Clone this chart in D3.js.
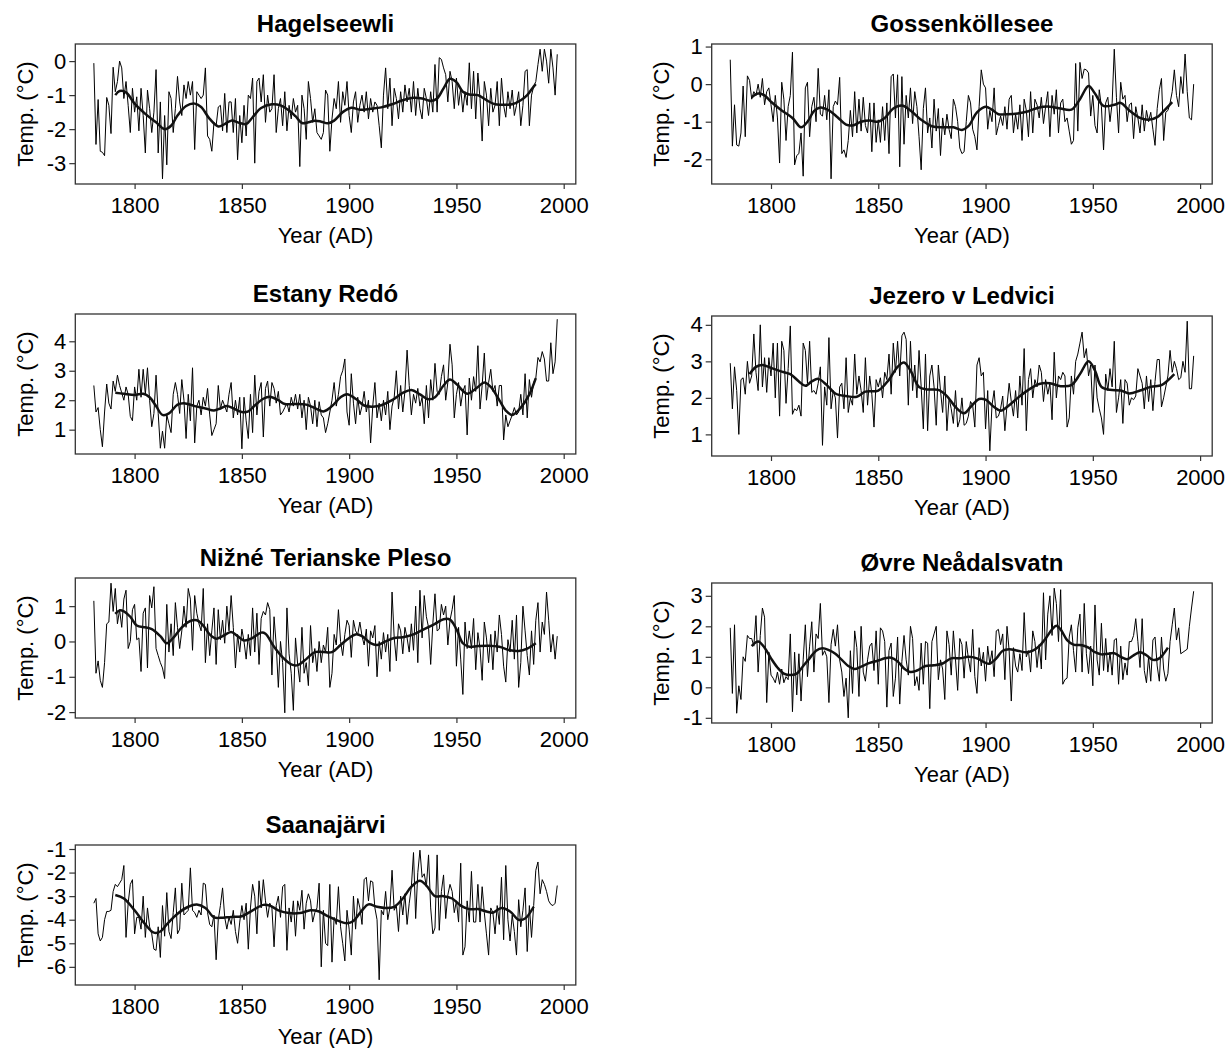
<!DOCTYPE html>
<html>
  <head>
    <meta charset="UTF-8">
    <title>Lake temperature reconstructions</title>
  </head>
  <style type="text/css">
    body { margin: 0; background: #fff; }
    text { font-family: "Liberation Sans", Arial, Helvetica, sans-serif; fill: #000; }
    .tick text { font-size: 22px; }
    .tick line { stroke: #333; stroke-width: 1.2; }
    .title { font-size: 24px; font-weight: bold; }
    .label { font-size: 22px; }
  </style>
  <body>
    <svg width="1231" height="1048"></svg>
  </body>
  <script src="https://d3js.org/d3.v7.min.js"></script>
  <script type="text/javascript">
    // annual series all start in 1781
    const startYear = 1781;
    const xTicks = [1800, 1850, 1900, 1950, 2000];

    const lakeNames = ['Hagelseewli', 'Gossenköllesee', 'Estany Redó', 'Jezero v Ledvici',
                       'Nižné Terianske Pleso', 'Øvre Neådalsvatn', 'Saanajärvi'];

    const hagelseewliTemp = [
      -0.06, -2.45, -1.13, -2.65, -2.68, -2.78, -1.07, -1.3, -2.13, -0.18,
      -0.9, -0.6, 0.0, -0.2, -1.1, -0.6, -1.3, -2.1, -0.8, -1.5,
      -1.05, -2.05, -0.8, -1.6, -2.7, -0.85, -1.4, -2.1, -1.5, -0.25,
      -2.7, -1.2, -3.46, -1.6, -3.05, -0.9, -1.1, -2.1, -1.4, -0.45,
      -1.2, -1.6, -0.7, -1.1, -0.6, -1.0, -0.6, -2.6, -0.9, -1.0,
      -1.1, -1.0, -0.2, -2.2, -2.3, -2.65, -1.8, -1.9, -1.35, -1.3,
      -2.05, -0.95, -2.1, -1.2, -1.2, -2.1, -1.1, -2.9, -1.6, -2.4,
      -1.3, -2.2, -1.0, -1.1, -0.5, -3.0, -0.6, -0.5, -1.2, -0.4,
      -1.8, -1.0, -1.5, -1.4, -0.4, -2.1, -1.4, -1.1, -1.9, -0.9,
      -2.05, -1.3, -1.7, -1.1, -1.5, -1.3, -3.1, -1.0, -1.4, -2.3,
      -0.6, -1.1, -1.8, -1.4, -2.1, -2.2, -2.3, -2.1, -0.85, -1.0,
      -2.65, -1.7, -1.1, -1.4, -0.6, -1.8, -0.9, -1.3, -0.6, -1.6,
      -2.1, -1.2, -0.9, -1.8, -1.3, -1.0, -1.5, -0.9, -1.7, -1.1,
      -1.5, -1.2, -1.3, -1.9, -2.55, -1.0, -0.2, -1.4, -0.5, -1.9,
      -0.8, -1.1, -1.7, -0.9, -1.5, -0.7, -1.2, -0.8, -1.5, -0.6,
      -1.6, -0.8, -1.4, -1.7, -0.8, -1.1, -1.6, -0.9, -1.5, -0.1,
      -1.5, 0.1, 0.05, -0.2, -0.4, -1.2, -0.3, -0.6, -1.4, -0.5,
      -1.3, -0.8, -1.5, -0.9, -1.3, -0.05, -1.4, -0.3, -1.7, -0.35,
      -1.1, -2.35, -0.6, -1.0, -1.9, -0.8, -1.5, -1.3, -0.6, -1.9,
      -0.5, -1.3, -1.65, -0.9, -1.4, -0.85, -1.6, -1.3, -0.9, -1.9,
      -1.3, -0.3, -0.25, -1.9, -1.0, -0.75, -0.6, -0.1, 0.35, -0.3,
      0.35, 0.0, -0.65, 0.35, -0.2, -1.0, 0.2
    ];
    const hagelseewliSmooth = [
      [1791, -1.0], [1793, -0.88], [1796, -0.92], [1800, -1.25], [1805, -1.55], [1810, -1.8],
      [1814, -2.0], [1817, -1.9], [1820, -1.6], [1824, -1.32], [1828, -1.25], [1831, -1.35],
      [1835, -1.7], [1839, -1.92], [1842, -1.85], [1845, -1.75], [1849, -1.82], [1852, -1.85],
      [1855, -1.65], [1859, -1.38], [1864, -1.27], [1868, -1.3], [1872, -1.45], [1875, -1.62],
      [1878, -1.82], [1881, -1.8], [1884, -1.75], [1887, -1.78], [1890, -1.83], [1893, -1.75],
      [1897, -1.5], [1901, -1.37], [1905, -1.43], [1910, -1.4], [1915, -1.36], [1920, -1.27],
      [1925, -1.15], [1930, -1.08], [1934, -1.1], [1938, -1.17], [1941, -1.1], [1944, -0.8],
      [1947, -0.52], [1950, -0.62], [1953, -0.9], [1956, -0.98], [1960, -1.0], [1964, -1.15],
      [1968, -1.27], [1972, -1.28], [1976, -1.27], [1980, -1.15], [1983, -1.0], [1986, -0.75],
      [1987, -0.68]
    ];

    const gossenTemp = [
      0.65, -1.65, -0.55, -1.62, -1.65, -1.3, -0.05, -1.4, 0.22, 0.1,
      -0.4, -0.2, -0.3, 0.0, -0.35, 0.15, -0.55, -0.2, -0.1, -0.55,
      -1.0, -0.3, -0.9, -2.1, 0.05, -0.4, -1.5, -0.6, -0.3, 0.85,
      -2.15, -1.9, -1.85, -1.3, -2.45, -0.1, 0.05, -1.4, -0.6, -0.35,
      -1.0, 0.42, -0.8, -0.85, -0.3, -0.95, -0.15, -2.52, -0.6, -0.45,
      -0.55, 0.18, -1.85, -1.75, -1.95, -1.5, -0.7, -1.4, -0.2, -1.3,
      -0.4, -1.25, -0.35, -1.1, -1.3, -0.5, -1.8, -0.5, -1.55, -0.95,
      -1.55, -0.6, -1.5, -0.5, -1.85, 0.2, 0.27, -0.9, 0.25, -2.2,
      0.2, -1.6, -0.3, -0.9, -0.1, -1.05, -0.2, -0.6, -1.4, -2.28,
      -0.65, -0.1, -1.3, -0.9, -1.7, -0.4, -1.25, -0.65, -1.9, -0.9,
      -1.35, -0.8, -1.2, -1.45, -0.4, -0.6, -1.0, -1.7, -1.85, -1.8,
      -1.0, -0.3, -0.5, -1.2, -1.4, -1.75, -0.6, 0.38, 0.0, -0.1,
      -1.2, -0.7, -1.0, -0.1, -1.35, -1.1, -0.85, -1.1, -0.6, -1.2,
      -0.4, -0.3, -1.3, -0.8, -1.2, -0.55, -1.5, -0.4, -0.7, -1.4,
      -0.2, -1.3, -0.4, -0.55, -0.9, -0.35, -1.05, -0.6, -0.2, -1.4,
      -0.3, -0.8, -0.15, -1.3, -0.5, -0.4, -1.0, -0.9, -1.25, -1.6,
      -1.5, 0.55, -1.25, 0.58, 0.15, 0.4, 0.38, 0.3, -0.85, -0.3,
      -1.1, -1.3, -0.15, -0.6, -1.75, -0.5, -0.35, -1.0, -0.5, 0.93,
      -0.35, -1.3, 0.05, -0.4, -0.3, -1.0, -0.55, -0.5, -1.45, -0.6,
      -0.9, -1.3, -0.55, -1.25, -0.7, -1.0, -0.75, -1.2, -1.63, -0.65,
      -0.15, 0.15, -1.5, -0.75, -0.7, -0.5, -0.2, 0.38, -0.3, -0.6,
      0.2, -0.25, 0.8, -0.2, -0.9, -0.95, 0.0
    ];
    const gossenSmooth = [
      [1791, -0.35], [1794, -0.25], [1797, -0.3], [1800, -0.47], [1805, -0.7], [1810, -0.9],
      [1814, -1.15], [1817, -1.0], [1820, -0.72], [1823, -0.62], [1827, -0.7], [1831, -0.88],
      [1835, -1.08], [1838, -1.1], [1842, -1.0], [1846, -0.97], [1850, -1.0], [1853, -0.9],
      [1857, -0.65], [1861, -0.57], [1865, -0.7], [1870, -0.95], [1875, -1.12], [1880, -1.15],
      [1885, -1.15], [1889, -1.22], [1892, -1.12], [1896, -0.75], [1900, -0.6], [1903, -0.68],
      [1906, -0.8], [1910, -0.8], [1915, -0.78], [1920, -0.72], [1925, -0.62], [1930, -0.6],
      [1935, -0.65], [1940, -0.68], [1944, -0.4], [1948, -0.05], [1951, -0.25], [1955, -0.58],
      [1960, -0.55], [1963, -0.5], [1967, -0.7], [1972, -0.9], [1976, -0.95], [1980, -0.88],
      [1983, -0.72], [1987, -0.48]
    ];

    const redoTemp = [
      2.5, 1.6, 1.75, 1.0, 0.42, 1.6, 2.55, 1.9, 1.7, 2.65,
      2.3, 2.85, 2.5, 2.25, 2.0, 2.45, 2.2, 1.45, 1.3, 2.45,
      2.0, 3.05, 2.1, 3.05, 2.2, 3.1, 2.0, 1.1, 1.55, 2.85,
      1.55, 0.37, 0.95, 0.37, 1.5, 1.2, 0.9, 2.2, 2.6, 2.2,
      1.55, 2.7, 2.0, 0.7, 2.2, 1.3, 3.1, 0.55, 1.8, 2.0,
      1.5, 2.1, 1.8, 2.4, 1.5, 0.8, 1.0, 1.2, 2.5, 1.7,
      2.0, 1.8, 1.6, 2.2, 2.6, 1.4, 2.0, 1.5, 2.1, 0.35,
      2.1, 1.3, 0.7, 2.2, 0.9, 2.85, 1.5, 2.3, 2.6, 0.75,
      2.4, 2.65, 1.8, 2.6, 2.4, 1.9, 2.3, 1.5, 1.6, 1.75,
      1.9, 1.6, 2.1, 1.8, 2.2, 1.7, 2.2, 1.4, 2.0, 1.0,
      2.1, 1.8, 1.2, 2.0, 1.1, 1.95, 1.5, 1.4, 0.9, 1.2,
      1.6, 2.0, 2.6, 1.8, 2.2, 2.8, 3.0, 3.4, 1.6, 1.15,
      2.9, 1.9, 1.2, 2.1, 1.5, 1.8, 2.3, 1.6, 2.0, 0.55,
      1.8, 2.6, 1.4, 1.9, 1.3, 2.0, 1.5, 2.3, 1.0, 1.8,
      2.1, 3.0, 1.7, 2.5, 1.6, 2.3, 3.7, 2.5, 1.5, 2.2,
      1.9, 2.4, 1.8, 2.1, 1.2, 2.5, 1.4, 2.7, 2.0, 3.25,
      2.3, 2.2, 2.8, 3.2, 2.0, 2.6, 3.9, 3.2, 1.4, 2.2,
      2.6, 1.8, 2.3, 2.5, 0.82, 2.75, 2.0, 2.8, 2.3, 3.85,
      1.7, 2.5, 3.6, 2.0, 2.6, 3.05, 2.3, 2.5, 1.8, 2.5,
      2.5, 0.65, 1.5, 1.1, 1.3, 1.5, 1.75, 1.5, 1.6, 2.2,
      1.5, 2.9, 1.4, 2.7, 2.1, 2.6, 2.75, 3.45, 3.3, 3.65,
      3.4, 2.65, 2.65, 3.95, 2.9, 3.3, 4.75
    ];
    const redoSmooth = [
      [1791, 2.25], [1795, 2.22], [1800, 2.18], [1804, 2.22], [1807, 2.1], [1810, 1.8],
      [1813, 1.5], [1816, 1.55], [1820, 1.85], [1823, 1.9], [1828, 1.8], [1833, 1.72],
      [1837, 1.65], [1840, 1.72], [1843, 1.8], [1846, 1.72], [1850, 1.6], [1853, 1.62],
      [1856, 1.82], [1860, 2.05], [1863, 2.12], [1867, 2.0], [1870, 1.87], [1875, 1.87],
      [1880, 1.85], [1885, 1.7], [1888, 1.62], [1892, 1.8], [1896, 2.1], [1899, 2.2],
      [1903, 2.05], [1907, 1.82], [1911, 1.78], [1915, 1.83], [1920, 2.0], [1925, 2.25],
      [1929, 2.35], [1933, 2.2], [1937, 2.03], [1940, 2.1], [1944, 2.5], [1947, 2.7],
      [1950, 2.55], [1955, 2.22], [1960, 2.45], [1963, 2.6], [1966, 2.45], [1970, 2.0],
      [1973, 1.65], [1976, 1.5], [1980, 1.75], [1984, 2.2], [1987, 2.75]
    ];

    const ledviciTemp = [
      2.95, 1.7, 2.85, 2.2, 1.0, 2.5, 2.55, 2.1, 3.0, 2.4,
      2.6, 3.75, 2.7, 2.2, 4.0, 2.3, 3.1, 2.15, 3.1, 2.6,
      3.5, 2.0, 3.5, 1.5, 3.55, 3.3, 1.85, 2.8, 3.97, 1.55,
      1.7, 1.65, 1.8, 1.5, 3.5, 3.3, 2.4, 3.55, 2.15, 2.2,
      2.1, 2.4, 2.85, 0.7, 2.3, 1.8, 3.65, 1.7, 2.2, 2.0,
      0.9, 2.3, 2.4, 1.7, 3.1, 1.6, 2.0, 1.8, 3.2, 2.1,
      2.6, 2.2, 1.6, 3.1, 1.8, 2.6, 2.1, 1.2, 2.5, 2.3,
      2.55, 2.0, 2.7, 2.5, 3.2, 2.1, 3.5, 2.7, 3.55, 2.6,
      3.7, 3.8, 3.6, 1.8, 3.55, 2.2, 2.9, 2.0, 3.3, 2.3,
      1.15, 3.2, 1.1, 2.6, 2.9, 2.3, 1.25, 2.9, 2.2, 1.6,
      2.6, 1.1, 2.0, 1.7, 1.3, 2.2, 1.2, 1.4, 2.0, 1.25,
      1.3, 1.5, 1.9, 1.8, 1.2, 2.9, 3.1, 2.6, 2.7, 1.15,
      2.2, 0.55, 1.8, 2.2, 1.45, 1.5, 1.7, 2.05, 1.1, 1.8,
      2.4, 1.9, 1.5, 2.2, 1.45, 2.6, 1.8, 3.35, 1.1, 2.5,
      2.8, 2.0, 2.5, 2.3, 2.9, 2.7, 1.9, 2.5, 2.1, 2.4,
      1.4, 3.25, 2.0, 2.6, 2.5, 2.7, 2.6, 1.2, 1.45, 2.6,
      2.1, 3.0, 3.2, 3.5, 3.8, 3.1, 3.35, 2.6, 2.9, 1.6,
      2.9, 2.0, 1.7, 1.45, 1.0, 2.65, 2.2, 2.8, 2.3, 3.55,
      1.6, 2.0, 2.5, 1.3, 2.5, 2.4, 1.8, 2.0, 1.95, 2.05,
      2.8, 2.6, 2.4, 1.7, 2.6, 1.9, 2.5, 1.65, 2.45, 3.05,
      3.05, 1.75, 2.0, 2.3, 2.6, 3.3, 2.7, 3.0, 2.8, 2.5,
      2.55, 3.0, 2.7, 4.1, 2.25, 2.25, 3.15
    ];
    const ledviciSmooth = [
      [1790, 2.65], [1793, 2.85], [1796, 2.9], [1800, 2.82], [1805, 2.72], [1809, 2.65],
      [1813, 2.45], [1816, 2.33], [1819, 2.45], [1822, 2.52], [1826, 2.35], [1830, 2.12],
      [1835, 2.05], [1840, 2.03], [1844, 2.17], [1850, 2.2], [1855, 2.5], [1859, 2.85],
      [1862, 2.97], [1865, 2.75], [1869, 2.3], [1873, 2.23], [1878, 2.22], [1882, 2.05],
      [1886, 1.75], [1890, 1.58], [1893, 1.75], [1897, 1.97], [1900, 1.95], [1904, 1.75],
      [1907, 1.65], [1911, 1.8], [1915, 2.0], [1920, 2.22], [1925, 2.38], [1930, 2.4],
      [1935, 2.32], [1940, 2.35], [1944, 2.65], [1948, 3.0], [1951, 2.75], [1954, 2.3],
      [1958, 2.22], [1963, 2.2], [1967, 2.12], [1972, 2.2], [1977, 2.3], [1982, 2.35],
      [1985, 2.48], [1988, 2.65]
    ];

    const terianskeTemp = [
      1.15, -0.9, -0.55, -1.1, -1.3, -0.6, 0.5, 0.55, 1.65, 0.85,
      1.5, 0.5, 0.9, 0.4, 1.2, 1.45, -0.2, 0.0, 0.9, 1.05,
      0.05, 0.1, -0.85, 0.8, 0.95, -0.75, 1.3, 0.95, 1.55, -0.2,
      -0.4, -0.6, -0.75, -1.05, 1.05, -0.3, 0.5, -0.4, 1.1, 0.4,
      -0.2, 0.3, 1.0, 0.4, 1.5, 1.2, -0.25, 1.3, 0.8, 0.5,
      0.3, 1.5, -0.6, 0.5, -0.4, 0.3, 0.95, -0.65, 0.9, 0.05,
      0.6, -0.05, 1.0, 0.3, 1.3, 0.4, -0.75, 0.2, -0.3, 0.35,
      0.0, -0.5, 0.2, -0.4, 0.95, -0.3, 0.8, -0.65, 0.65, 0.85,
      0.75, 1.1, 0.9, -0.95, 0.7, -0.1, -1.3, 0.0, -0.6, -2.02,
      0.95, -0.35, -0.9, -1.95, 0.1, -0.65, -1.15, 0.4, -0.9, -0.6,
      -1.25, 0.45, -0.6, -0.2, -0.85, 0.0, -0.6, -0.1, -0.3, 0.4,
      -1.3, -0.9, 0.2, -0.1, 0.9, 0.0, -0.4, 0.2, 0.6, 0.45,
      -0.45, 0.6, 0.3, 0.2, 0.55, 0.15, -0.1, 0.35, -0.7, 0.3,
      0.1, 0.45, -1.0, 0.0, -0.5, 0.25, -0.3, 0.2, -0.85, 1.4,
      0.1, -0.55, 0.5, 0.3, -0.35, 0.4, 0.1, -0.3, 0.5, -0.25,
      1.0, -0.6, 1.45, 0.1, 1.3, 0.7, 0.4, -0.65, 0.5, 1.35,
      0.3, 0.35, 1.05, 0.75, 1.0, -0.1, 0.6, 0.9, 1.3, -0.7,
      0.4, -0.5, -1.5, 0.55, -0.2, 0.3, -0.2, 0.65, -0.8, 0.25,
      -0.2, -1.1, 0.55, 0.1, -0.6, 0.2, -0.8, 0.3, -0.3, 0.75,
      0.2, -0.7, -1.15, 0.05, -0.3, 0.6, -0.5, 0.75, -1.3, -0.6,
      1.0, 0.3, -0.4, -0.95, 0.3, -0.65, 0.6, 1.1, -0.3, 0.55,
      0.2, 1.4, 0.6, -0.3, 0.2, -0.5, 0.15
    ];
    const terianskeSmooth = [
      [1791, 0.78], [1793, 0.88], [1795, 0.85], [1798, 0.7], [1801, 0.45], [1805, 0.4],
      [1808, 0.35], [1812, 0.15], [1815, -0.05], [1818, 0.1], [1822, 0.4], [1826, 0.58],
      [1829, 0.6], [1832, 0.45], [1835, 0.2], [1838, 0.08], [1841, 0.15], [1845, 0.27],
      [1848, 0.15], [1851, 0.03], [1855, 0.1], [1859, 0.25], [1861, 0.22], [1865, -0.15],
      [1869, -0.45], [1873, -0.65], [1876, -0.67], [1880, -0.5], [1884, -0.3], [1888, -0.3],
      [1892, -0.3], [1896, -0.1], [1900, 0.1], [1903, 0.2], [1906, 0.15], [1910, -0.05],
      [1913, -0.1], [1917, 0.0], [1921, 0.1], [1925, 0.12], [1930, 0.2], [1935, 0.35],
      [1940, 0.5], [1944, 0.63], [1947, 0.62], [1950, 0.35], [1953, -0.05], [1956, -0.15],
      [1960, -0.13], [1965, -0.12], [1970, -0.15], [1975, -0.25], [1979, -0.27], [1983, -0.2],
      [1987, -0.05]
    ];

    const neadalsvatnTemp = [
      1.95, -0.2, 2.05, -0.85, 0.05, -0.4, 1.0, 0.85, 1.7, 1.6,
      1.6, 1.35, 2.35, 0.5, 1.7, 2.6, 2.3, -0.5, 1.15, 0.4,
      0.3, 0.15, 0.5, 0.1, 0.6, 0.15, 0.35, 0.25, 1.75, -0.8,
      1.15, -0.25, 1.1, -0.45, 0.9, 2.05, 0.35, 1.35, 2.15, 0.5,
      1.75, 1.6, 2.75, 1.05, 1.2, 1.0, -0.5, 1.4, 1.9, 1.35,
      2.05, 0.9, 0.5, -0.3, 0.3, -1.0, 1.2, -0.2, 1.85, 1.3,
      -0.3, 2.0, 0.5, 0.2, 0.9, 1.35, 1.45, 0.55, 1.85, 0.1,
      1.95, 1.85, 1.5, -0.65, 1.2, 1.45, -0.3, 0.3, 1.65, -0.55,
      0.85, 1.7, 0.9, 0.4, 2.0, 1.6, 0.05, 0.35, -0.1, 1.45,
      0.1, 1.5, 1.45, -0.7, 1.5, 1.75, 2.0, 0.25, 0.9, 0.6,
      -0.4, 1.85, 1.4, 0.4, 1.85, 0.9, -0.1, 1.6, 1.4, 0.3,
      1.5, 0.95, 0.5, 1.9, 0.35, -0.2, 1.3, 0.7, 1.15, 0.2,
      1.35, 0.75, 1.2, 0.35, 1.85, 1.9, 1.4, 1.75, 0.25, 2.0,
      1.2, -0.45, 1.3, 0.7, 0.5, 1.1, 0.55, 2.45, 1.0, 1.2,
      0.5, 1.85, 1.5, 0.65, 1.4, 0.6, 3.1, 0.9, 2.4, 3.0,
      1.7, 3.25, 2.75, 1.5, 3.2, 0.1, 0.25, 0.3, 1.65, 2.05,
      1.2, 0.5, 1.95, 2.4, 0.5, 2.75, 1.1, 0.45, 1.35, 0.05,
      2.7, 0.9, 0.4, 2.1, 0.55, 1.6, 0.5, 1.15, 0.4, 1.55,
      1.6, 0.1, 1.35, 0.25, 0.8, 0.4, 1.5, 1.5, 1.7, 2.25,
      1.5, 0.65, 2.25, 0.55, 0.15, 1.0, 0.2, 1.55, 1.65, 0.7,
      0.2, 1.65, 0.6, 0.2, 0.45, 1.5, 2.05, 2.6, 1.55, 1.95,
      1.1, 1.15, 1.2, 1.25, 2.0, 2.6, 3.15
    ];
    const neadalsvatnSmooth = [
      [1791, 1.35], [1794, 1.5], [1797, 1.3], [1800, 0.95], [1803, 0.65], [1806, 0.45],
      [1809, 0.4], [1812, 0.45], [1815, 0.7], [1818, 0.95], [1821, 1.2], [1824, 1.28],
      [1827, 1.22], [1830, 1.1], [1833, 0.9], [1836, 0.7], [1839, 0.6], [1842, 0.68],
      [1846, 0.8], [1850, 0.88], [1853, 0.95], [1856, 0.97], [1859, 0.85], [1862, 0.62],
      [1865, 0.5], [1868, 0.55], [1872, 0.7], [1876, 0.72], [1880, 0.78], [1884, 0.95],
      [1888, 0.95], [1892, 1.0], [1896, 0.95], [1900, 0.8], [1902, 0.78], [1905, 0.95],
      [1908, 1.2], [1911, 1.25], [1915, 1.2], [1919, 1.15], [1922, 1.2], [1925, 1.35],
      [1928, 1.6], [1931, 1.9], [1933, 2.02], [1935, 1.9], [1938, 1.55], [1941, 1.4],
      [1945, 1.38], [1948, 1.3], [1951, 1.15], [1954, 1.08], [1957, 1.1], [1960, 1.12],
      [1963, 1.0], [1966, 0.92], [1969, 1.05], [1972, 1.15], [1975, 1.05], [1978, 0.9],
      [1981, 0.95], [1985, 1.3]
    ];

    const saanaTemp = [
      -3.3, -3.1, -4.6, -4.9, -4.75, -4.0, -3.65, -3.65, -3.6, -2.8,
      -2.5, -2.6, -2.45, -2.3, -1.7, -4.75, -3.3, -2.5, -2.3, -4.6,
      -3.9, -3.9, -4.4, -3.0, -4.75, -3.5, -4.3, -4.6, -5.25, -5.3,
      -4.3, -5.6, -3.4, -4.7, -2.85, -4.5, -4.8, -3.7, -2.65, -4.6,
      -4.4, -2.45, -3.8, -3.7, -3.6, -1.8, -3.6, -3.7, -3.9, -3.6,
      -3.8, -2.45, -2.5, -3.7, -4.2, -4.3, -3.8, -5.7, -4.0, -3.4,
      -2.65, -3.9, -4.4, -3.9, -4.2, -3.6, -4.5, -5.0, -4.1, -3.4,
      -4.0, -3.3, -5.25, -3.5, -2.5, -3.0, -4.6, -2.35, -3.5, -2.3,
      -3.2, -3.9, -3.3, -3.5, -5.15, -3.4, -3.0, -3.9, -2.6, -2.5,
      -5.3, -3.5, -4.1, -3.2, -4.7, -3.2, -3.6, -2.75, -4.4, -3.3,
      -2.9, -3.2, -4.1, -3.7, -3.5, -2.45, -6.0, -3.6, -5.0, -5.1,
      -2.5, -5.8, -3.9, -4.2, -2.6, -4.3, -5.0, -5.75, -3.6, -4.4,
      -5.5, -3.0, -4.4, -3.1, -3.5, -4.2, -2.3, -2.2, -3.2, -2.35,
      -2.4, -3.5, -4.0, -6.55, -3.6, -3.8, -2.8, -4.0, -3.5, -1.9,
      -3.6, -3.4, -4.5, -3.0, -3.8, -2.9, -4.2, -3.3, -2.6, -1.15,
      -3.95, -2.0, -1.05, -2.2, -2.05, -2.6, -1.25, -3.5, -4.6, -4.35,
      -1.25, -4.45, -2.8, -2.1, -3.95, -2.95, -2.5, -2.8, -3.7, -3.2,
      -4.1, -1.6, -5.5, -5.15, -3.2, -4.1, -1.95, -4.1, -4.1, -2.5,
      -4.1, -2.6, -3.7, -4.6, -5.5, -3.5, -3.7, -4.6, -3.4, -4.2,
      -2.2, -4.85, -1.7, -4.0, -4.9, -3.8, -4.5, -5.5, -3.15, -4.3,
      -3.6, -2.65, -5.35, -3.4, -4.75, -3.4, -1.9, -1.55, -2.9, -2.3,
      -2.5, -2.8, -3.2, -3.35, -3.4, -3.3, -2.55
    ];
    const saanaSmooth = [
      [1791, -2.95], [1795, -3.1], [1800, -3.6], [1805, -4.2], [1809, -4.55], [1812, -4.5],
      [1815, -4.2], [1820, -3.75], [1825, -3.45], [1829, -3.35], [1833, -3.5], [1837, -3.9],
      [1840, -3.92], [1845, -3.88], [1850, -3.85], [1855, -3.6], [1860, -3.37], [1863, -3.4],
      [1867, -3.6], [1872, -3.72], [1877, -3.72], [1882, -3.6], [1886, -3.65], [1890, -3.85],
      [1895, -4.05], [1899, -4.15], [1902, -4.05], [1906, -3.6], [1909, -3.35], [1913, -3.45],
      [1917, -3.5], [1921, -3.45], [1925, -3.1], [1929, -2.6], [1933, -2.35], [1936, -2.55],
      [1940, -3.0], [1944, -3.0], [1948, -3.1], [1952, -3.4], [1956, -3.55], [1960, -3.55],
      [1964, -3.65], [1967, -3.7], [1971, -3.5], [1975, -3.65], [1979, -4.0], [1982, -3.95],
      [1986, -3.45]
    ];

    const yTickSets = [
      [0, -1, -2, -3],
      [1, 0, -1, -2],
      [1, 2, 3, 4],
      [1, 2, 3, 4],
      [1, 0, -1, -2],
      [3, 2, 1, 0, -1],
      [-1, -2, -3, -4, -5, -6]
    ];

    const tempSeries = [hagelseewliTemp, gossenTemp, redoTemp, ledviciTemp,
                        terianskeTemp, neadalsvatnTemp, saanaTemp];
    const smoothSeries = [hagelseewliSmooth, gossenSmooth, redoSmooth, ledviciSmooth,
                          terianskeSmooth, neadalsvatnSmooth, saanaSmooth];

    // panel placement (box left/top)
    const colLeft = [75.3, 711.7];
    const rowTop = [[44, 44], [314, 316], [578, 583], [845, 845]];
    const boxW = 500.5, boxH = 140;

    const svg = d3.select('svg');

    // R style axis range: data extent plus 4% each side
    const padExtent = (ext) => {
      const r = ext[1] - ext[0];
      return [ext[0] - 0.04 * r, ext[1] + 0.04 * r];
    };

    lakeNames.forEach((name, i) => {
      const col = i % 2, row = Math.floor(i / 2);
      const left = colLeft[col], top = rowTop[row][col];
      const temps = tempSeries[i];
      const points = temps.map((v, k) => [startYear + k, v]);

      const x = d3.scaleLinear()
        .domain(padExtent(d3.extent(points, d => d[0])))
        .range([0, boxW]);
      const y = d3.scaleLinear()
        .domain(padExtent(d3.extent(temps)))
        .range([boxH, 0]);

      const g = svg.append('g').attr('transform', `translate(${left},${top})`);

      g.append('g')
          .attr('transform', `translate(0,${boxH})`)
          .call(d3.axisBottom(x).tickValues(xTicks).tickFormat(d => d).tickSize(5).tickPadding(8))
          .call(a => a.select('.domain').remove());

      g.append('g')
          .call(d3.axisLeft(y).tickValues(yTickSets[i]).tickFormat(d => String(d)).tickSize(6).tickPadding(3))
          .call(a => a.select('.domain').remove());

      g.append('path')
          .datum(points)
          .attr('fill', 'none')
          .attr('stroke', '#000')
          .attr('stroke-width', 1)
          .attr('stroke-linejoin', 'round')
          .attr('d', d3.line().x(d => x(d[0])).y(d => y(d[1])));

      g.append('path')
          .datum(smoothSeries[i])
          .attr('fill', 'none')
          .attr('stroke', '#111')
          .attr('stroke-width', 2.5)
          .attr('d', d3.line().curve(d3.curveCatmullRom.alpha(0.5)).x(d => x(d[0])).y(d => y(d[1])));

      g.append('rect')
          .attr('width', boxW)
          .attr('height', boxH)
          .attr('fill', 'none')
          .attr('stroke', '#333')
          .attr('stroke-width', 1.3);

      g.append('text')
          .attr('class', 'title')
          .attr('x', boxW / 2)
          .attr('y', -20)
          .attr('dy', '0.35em')
          .attr('text-anchor', 'middle')
          .text(name);

      g.append('text')
          .attr('class', 'label')
          .attr('x', boxW / 2)
          .attr('y', boxH + 51)
          .attr('dy', '0.35em')
          .attr('text-anchor', 'middle')
          .text('Year (AD)');

      g.append('text')
          .attr('class', 'label')
          .attr('transform', `translate(-50,${boxH / 2}) rotate(-90)`)
          .attr('dy', '0.35em')
          .attr('text-anchor', 'middle')
          .text('Temp. (°C)');
    });
  </script>
</html>
